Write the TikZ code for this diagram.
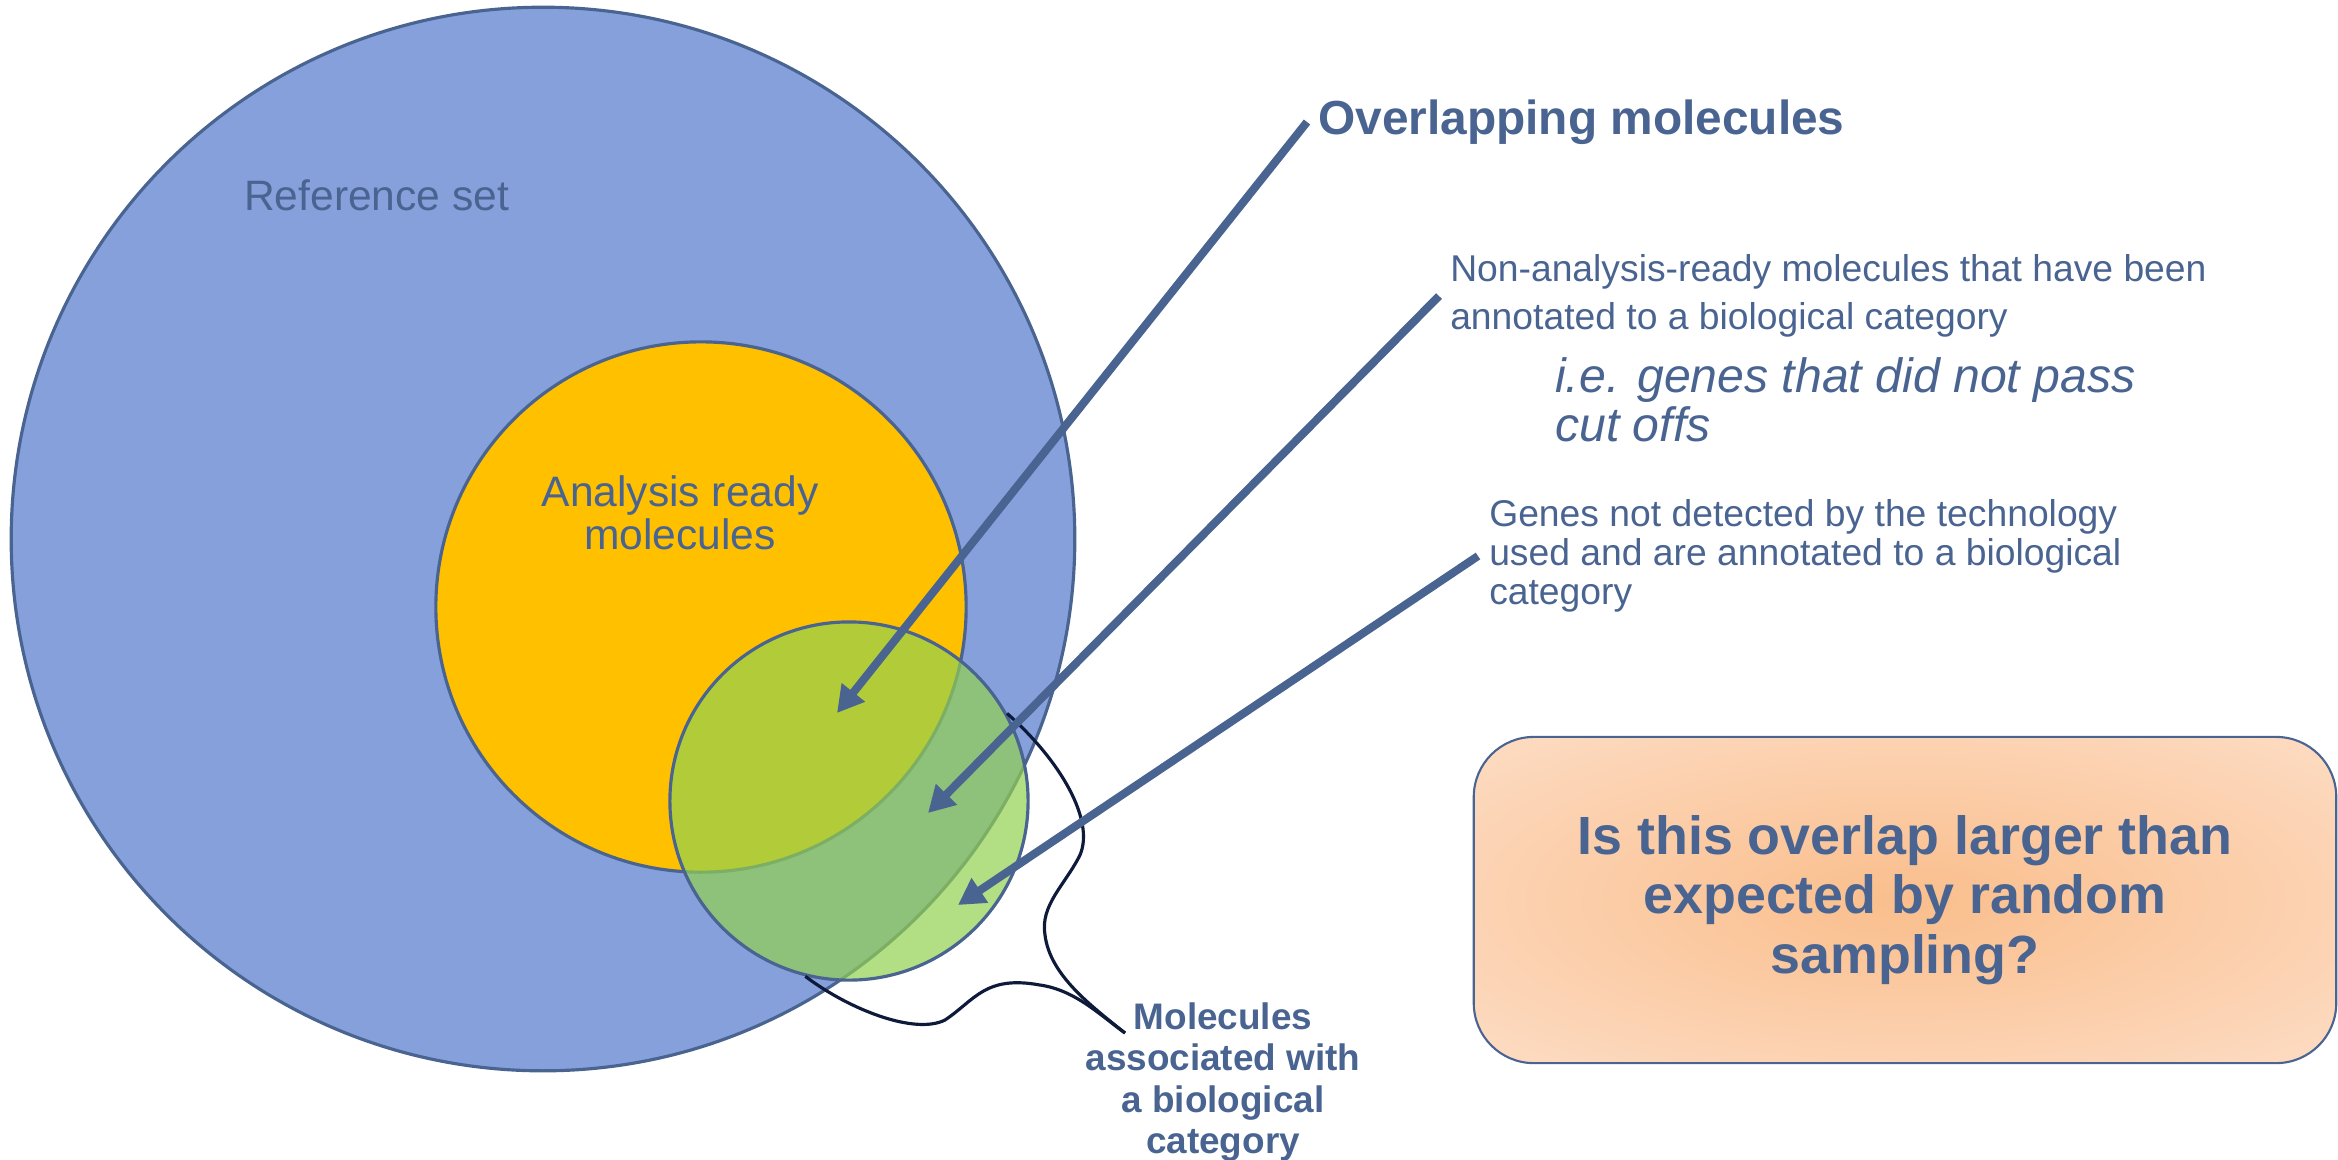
\documentclass[tikz,border=0pt]{standalone}
\usepackage{fontspec}
\setmainfont{Liberation Sans}
\usetikzlibrary{arrows.meta}

\definecolor{setblue}{RGB}{134,160,220}
\definecolor{readyyellow}{RGB}{255,192,0}
\definecolor{catgreen}{RGB}{146,208,80}
\definecolor{edgeblue}{RGB}{74,100,145}
\definecolor{txtblue}{RGB}{74,100,145}
\definecolor{navy}{RGB}{14,26,58}
\definecolor{peachmid}{RGB}{250,190,140}
\definecolor{peachedge}{RGB}{254,232,218}

\pgfdeclareradialshading{peachglow}{\pgfpoint{0bp}{0bp}}{color(0bp)=(peachmid); color(50bp)=(peachedge)}

\begin{document}
\begin{tikzpicture}
[
x=0.01cm, y=-0.01cm,
set/.style={circle,draw=edgeblue,line width=0.9pt,inner sep=0pt},
note/.style={text=txtblue,inner sep=3pt},
pointer/.style={draw=edgeblue,line width=2.3pt,-{Triangle[length=7.5pt,width=8pt]}},
brace/.style={draw=navy,line width=0.9pt},
question/.style={draw=edgeblue,line width=0.6pt,rounded corners=0.6cm,shading=peachglow,
                 minimum width=8.62cm,minimum height=3.26cm,align=center,text=txtblue},
]
\useasboundingbox (0,0) rectangle (2338,1159);

%The three sets
\node[set,fill=setblue,minimum size=10.63cm] (ref) at (543,539) {};
\node[set,fill=readyyellow,minimum size=5.30cm] (ready) at (701,607) {};
\node[set,fill=catgreen,fill opacity=0.7,minimum size=3.58cm] (cat) at (849,801) {};

%Labels
\node[note,anchor=west,font=\fontsize{12.1}{14.5}\selectfont] (refl) at (233,195) {Reference set};
\node[note,align=center,font=\fontsize{12.1}{12.2}\selectfont] (readyl) at (680,513) {Analysis ready\\molecules};
\node[note,anchor=west,font=\bfseries\fontsize{13.6}{16}\selectfont] (ovl) at (1307,122) {Overlapping molecules};
\node[note,anchor=west,align=left,font=\fontsize{10.6}{13.7}\selectfont] (nar) at (1439,296)
  {Non-analysis-ready molecules that have been\\annotated to a biological category};
\node[note,anchor=west,align=left,font=\itshape\fontsize{13.7}{13.9}\selectfont] (ie) at (1544,400)
  {i.e. genes that did not pass\\cut offs};
\node[note,anchor=west,align=left,font=\fontsize{10.6}{11}\selectfont] (gnd) at (1478,556)
  {Genes not detected by the technology\\used and are annotated to a biological\\category};
\node[note,align=center,font=\bfseries\fontsize{10.5}{11.7}\selectfont] (mol) at (1223,1082)
  {Molecules\\associated with\\a biological\\category};

%The question box
\node[question,font=\bfseries\fontsize{15.3}{17}\selectfont] (q) at (1905,900)
  {Is this overlap larger than\\expected by random\\sampling?};

%Brace round the category set
\coordinate (mtip) at (1125,1033);
\draw[brace] (cat.29) .. controls (1060,760) and (1095,820) .. (1080,855)
  .. controls (1065,885) and (1040,905) .. (1045,935)
  .. controls (1050,975) and (1090,1005) .. (mtip);
\draw[brace] (cat.256) .. controls (850,1010) and (915,1035) .. (945,1020)
  .. controls (975,1000) and (985,975) .. (1040,985)
  .. controls (1075,990) and (1100,1015) .. (mtip);

%Pointers into the sets
\coordinate (t1) at (837,713);
\coordinate (t2) at (928,813);
\coordinate (t3) at (958,905);
\draw[pointer] (ovl.west) -- (t1);
\draw[pointer] (nar.west) -- (t2);
\draw[pointer] (gnd.west) -- (t3);
\end{tikzpicture}
\end{document}
